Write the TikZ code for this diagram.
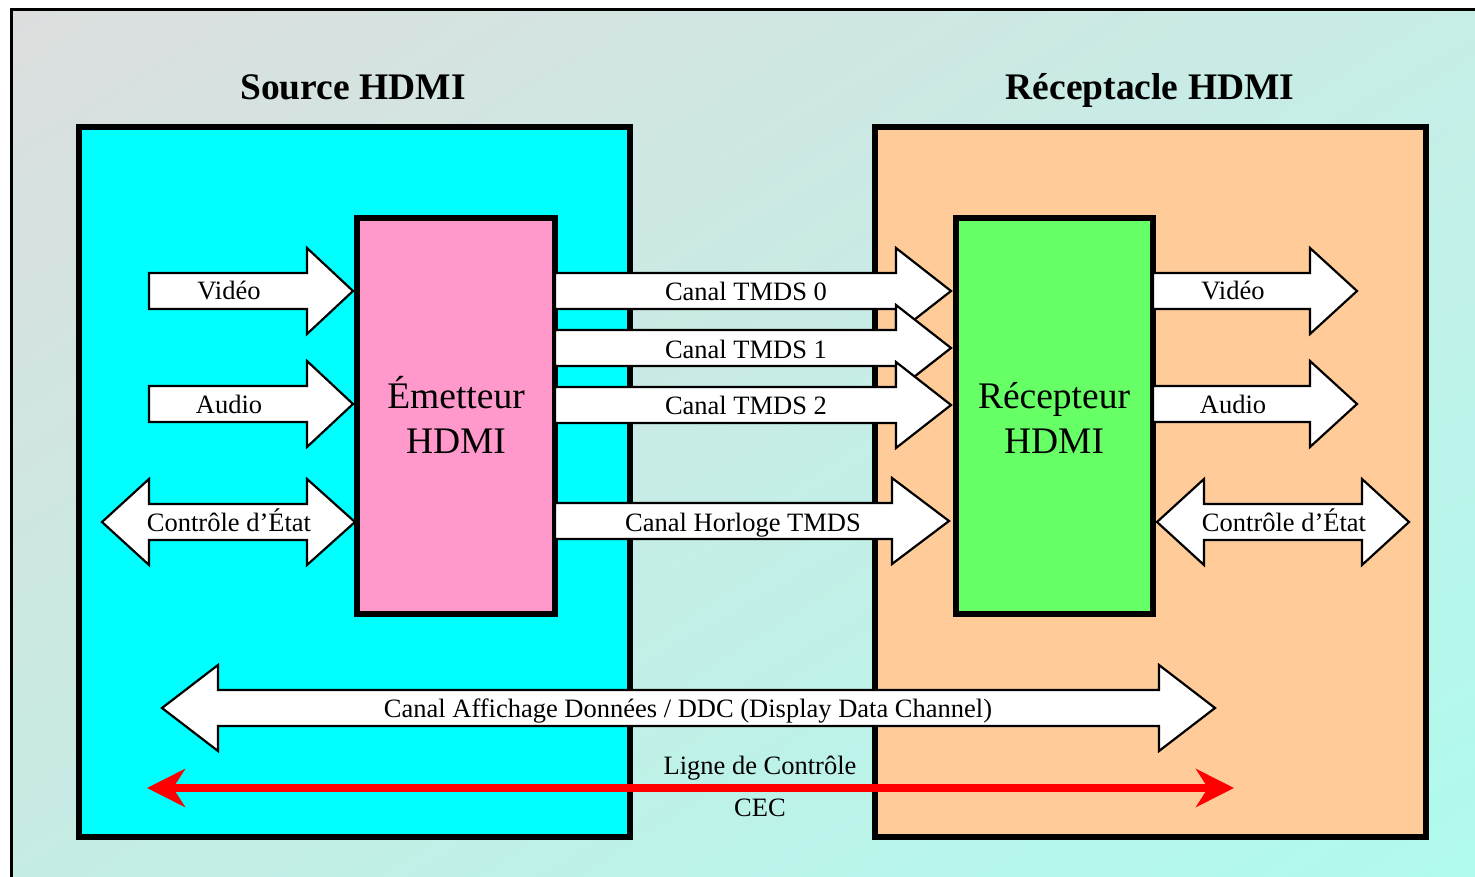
\documentclass[tikz,border=0pt]{standalone}
\usepackage{fontspec}
\setmainfont{Liberation Serif}
\usetikzlibrary{arrows.meta,shadings}

\definecolor{bgTL}{HTML}{DCDEDE}
\definecolor{bgTR}{HTML}{C6EDE6}
\definecolor{bgBL}{HTML}{C5ECE4}
\definecolor{bgBR}{HTML}{AFFBEE}
\definecolor{srcfill}{HTML}{00FFFF}
\definecolor{sinkfill}{HTML}{FFCC99}
\definecolor{txfill}{HTML}{FF99CC}
\definecolor{rxfill}{HTML}{66FF66}
\definecolor{cecred}{HTML}{FF0000}

\tikzset{
  unitbox/.style={draw=black, line width=6pt},
  chip/.style={draw=black, line width=5.5pt},
  blockarrow/.style={draw=black, line width=2.2pt, fill=white, line join=miter},
  lbl/.style={font=\fontsize{26.5}{30}\selectfont, inner sep=0pt, anchor=base},
  chiplbl/.style={font=\fontsize{37.5}{45}\selectfont, inner sep=0pt, anchor=base},
  ttl/.style={font=\bfseries\fontsize{37.5}{40}\selectfont, inner sep=0pt, anchor=base},
  cec/.style={draw=cecred, line width=8pt,
    arrows={Stealth[length=38pt, width=38pt, inset=12pt]-Stealth[length=38pt, width=38pt, inset=12pt]}},
}

% right-pointing block arrow: start x, head base x, tip x, centre y
\newcommand\rblock[4]{%
  \draw[blockarrow] (#1,#4-18) -- (#2,#4-18) -- (#2,#4-43) -- (#3,#4)
    -- (#2,#4+43) -- (#2,#4+18) -- (#1,#4+18) -- cycle;}
% two-headed block arrow: left tip, left base, right base, right tip, centre y
\newcommand\dblock[5]{%
  \draw[blockarrow] (#1,#5) -- (#2,#5-43) -- (#2,#5-18) -- (#3,#5-18)
    -- (#3,#5-43) -- (#4,#5) -- (#3,#5+43) -- (#3,#5+18) -- (#2,#5+18)
    -- (#2,#5+43) -- cycle;}

\begin{document}
\begin{tikzpicture}[x=1pt, y=-1pt]
  \useasboundingbox (0,0) rectangle (1475,877);
  \begin{scope}
    \clip (0,0) rectangle (1475,877);
    % framed background
    \shade[upper left=bgTL, upper right=bgTR, lower left=bgBL, lower right=bgBR]
      (11,10) rectangle (1490,890);
    \draw[line width=3pt] (11,10) rectangle (1490,890);
  \end{scope}

  % titles
  \node[ttl] (srcttl) at (353,100) {Source HDMI};
  \node[ttl] (sinkttl) at (1150,100) {Réceptacle HDMI};

  % source and sink units
  \draw[unitbox, fill=srcfill] (79,127) rectangle (630,837);
  \draw[unitbox, fill=sinkfill] (875,127) rectangle (1426,837);

  % transmitter and receiver chips
  \draw[chip, fill=txfill] (357,218) rectangle (555,614);
  \node[chiplbl] (tx1) at (456,408) {Émetteur};
  \node[chiplbl] (tx2) at (456,453) {HDMI};
  \draw[chip, fill=rxfill] (956,218) rectangle (1153,614);
  \node[chiplbl] (rx1) at (1054,408) {Récepteur};
  \node[chiplbl] (rx2) at (1054,453) {HDMI};

  % source inputs
  \rblock{149}{307}{353}{291}
  \node[lbl] (vin) at (229,300) {Vidéo};
  \rblock{149}{307}{353}{404}
  \node[lbl] (ain) at (229,413) {Audio};
  \dblock{102}{149}{307}{355}{522}
  \node[lbl] (cin) at (229,531) {Contrôle d’État};

  % TMDS links
  \rblock{555}{896}{951}{291}
  \node[lbl] (t0) at (746,301) {Canal TMDS 0};
  \rblock{555}{896}{951}{348}
  \node[lbl] (t1) at (746,358) {Canal TMDS 1};
  \rblock{555}{896}{951}{405}
  \node[lbl] (t2) at (746,414) {Canal TMDS 2};
  \rblock{555}{892}{949}{521}
  \node[lbl] (tck) at (743,531) {Canal Horloge TMDS};

  % sink outputs
  \rblock{1153}{1310}{1357}{291}
  \node[lbl] (vout) at (1233,300) {Vidéo};
  \rblock{1153}{1310}{1357}{404}
  \node[lbl] (aout) at (1233,413) {Audio};
  \dblock{1157}{1204}{1362}{1409}{522}
  \node[lbl] (cout) at (1284,531) {Contrôle d’État};

  % display data channel
  \dblock{162}{218}{1159}{1215}{708}
  \node[lbl] (ddc) at (688,717) {Canal Affichage Données / DDC (Display Data Channel)};

  % CEC line
  \coordinate (cecL) at (147,788);
  \coordinate (cecR) at (1234,788);
  \draw[cec] (cecL) -- (cecR);
  \node[lbl] (cec1) at (760,774) {Ligne de Contrôle};
  \node[lbl] (cec2) at (760,816) {CEC};
\end{tikzpicture}
\end{document}
